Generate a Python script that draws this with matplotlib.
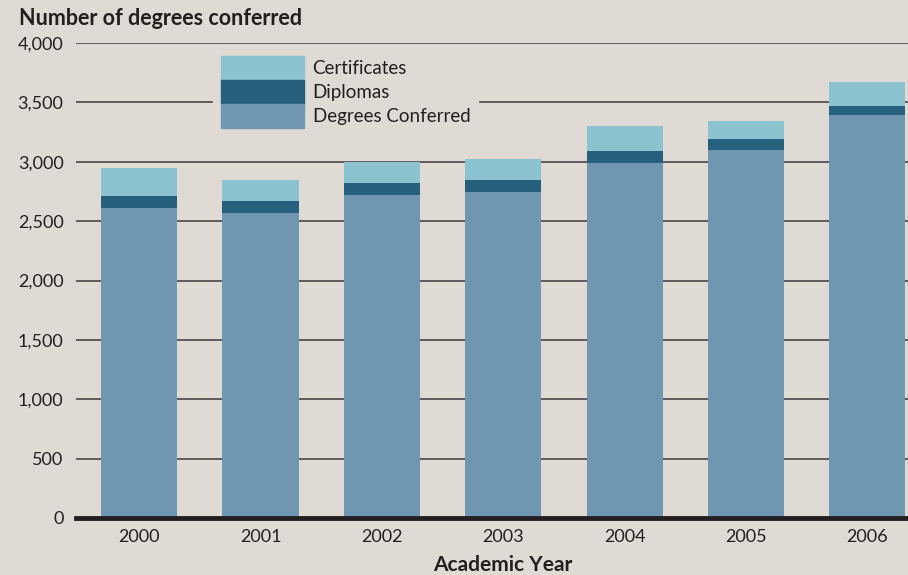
import matplotlib
matplotlib.use("Agg")
import matplotlib.pyplot as plt
from matplotlib.patches import Patch

years = ["2000", "2001", "2002", "2003", "2004", "2005", "2006"]
degrees = [2610, 2570, 2720, 2745, 2990, 3100, 3395]
diplomas = [101, 100, 101, 101, 101, 93, 75]
certificates = [235, 176, 177, 177, 210, 151, 203]
yticks = [0, 500, 1000, 1500, 2000, 2500, 3000, 3500, 4000]

BG = "#e0dad5"
C_DEG = "#6f97b1"
C_DIP = "#26607c"
C_CERT = "#8bc4d0"
TXT = "#231f20"
FONT = "Lato"

plt.rcParams["font.family"] = [FONT, "DejaVu Sans"]

fig = plt.figure(figsize=(9.08, 5.75), dpi=100, facecolor=BG)
ax = fig.add_axes([76 / 908, 1 - 518 / 575, 852 / 908, (518 - 43) / 575])
ax.set_facecolor(BG)

x = list(range(len(years)))
w = 0.627
ax.bar(x, degrees, width=w, color=C_DEG, zorder=3)
ax.bar(x, diplomas, width=w, bottom=degrees, color=C_DIP, zorder=3)
bottoms2 = [a + b for a, b in zip(degrees, diplomas)]
ax.bar(x, certificates, width=w, bottom=bottoms2, color=C_CERT, zorder=3)

ax.set_xlim(-0.52, 6.5)
ax.set_ylim(0, 4000)
ax.set_yticks(yticks)
ax.set_yticklabels([f"{v:,}" for v in yticks], fontsize=13, color=TXT)
ax.set_xticks(x)
ax.set_xticklabels(years, fontsize=13, color=TXT)
ax.tick_params(axis="y", length=0, pad=9)
ax.tick_params(axis="x", length=0, pad=8)
for yv in yticks[1:]:
    ax.axhline(yv, color="#4a4646", lw=1.2, zorder=1)
ax.axhline(0, color=TXT, lw=3.5, zorder=4, clip_on=False)
for s in ax.spines.values():
    s.set_visible(False)

fig.text(503 / 908, 1 - 571 / 575, "Academic Year", fontsize=15, fontweight="bold",
         color=TXT, ha="center", va="baseline")
fig.text(19 / 908, 1 - 25 / 575, "Number of degrees conferred", fontsize=15.5,
         fontweight="bold", color=TXT, ha="left", va="baseline")

handles = [Patch(color=C_CERT, label="Certificates"),
           Patch(color=C_DIP, label="Diplomas"),
           Patch(color=C_DEG, label="Degrees Conferred")]
leg = ax.legend(handles=handles, loc="upper left",
                bbox_to_anchor=(213 / 908, 1 - 48 / 575), bbox_transform=fig.transFigure,
                fontsize=13.5, frameon=True, fancybox=False, framealpha=1,
                facecolor=BG, edgecolor=BG, handlelength=4.43, handleheight=1.59,
                labelspacing=0, handletextpad=0.45, borderpad=0.43, borderaxespad=0)
leg.set_zorder(5)
for t in leg.get_texts():
    t.set_color(TXT)

fig.savefig("out.png", dpi=100, facecolor=BG)
